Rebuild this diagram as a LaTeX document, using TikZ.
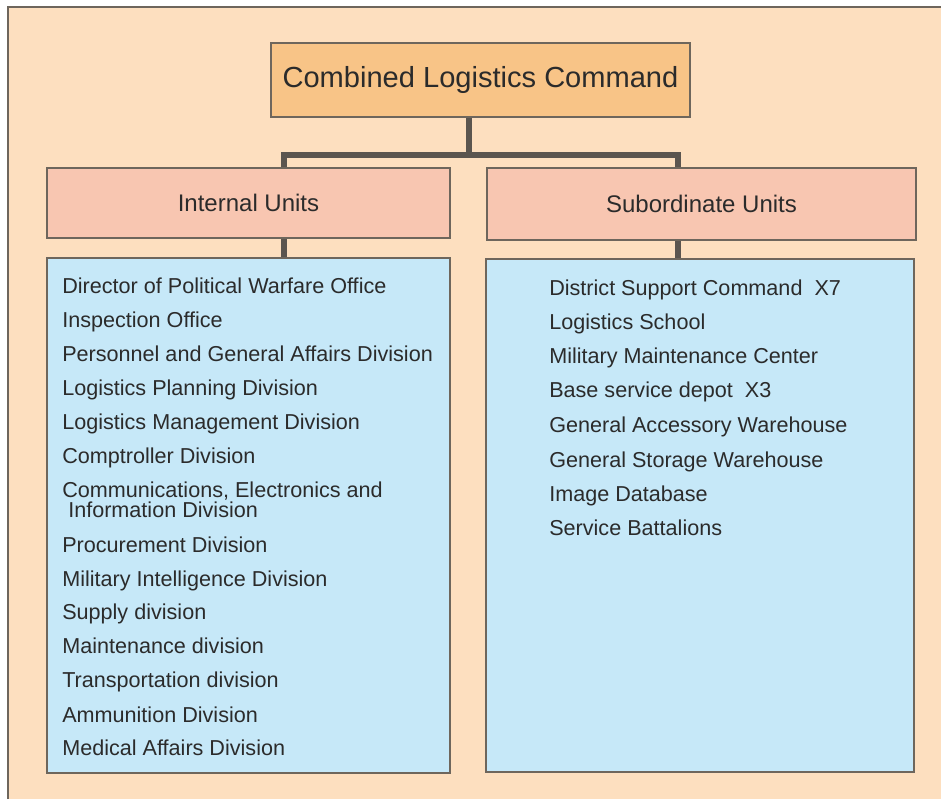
\documentclass[tikz,border=0pt]{standalone}
\usepackage{fontspec}
\setmainfont{Liberation Sans}
\usepackage{tikz}
\definecolor{Peach}{HTML}{FDDFBF}
\definecolor{TopOrange}{HTML}{F8C487}
\definecolor{UnitPink}{HTML}{F8C6B1}
\definecolor{ListBlue}{HTML}{C6E8F8}
\definecolor{EdgeGray}{HTML}{6E665C}
\definecolor{BarGray}{HTML}{5B554F}
\definecolor{InkGray}{HTML}{2B2B2B}

\tikzset{
  box/.style={draw=EdgeGray, line width=1.1pt, inner sep=0pt},
  bar/.style={draw=BarGray, line width=4.5pt},
  item/.style={anchor=base west, inner sep=0pt, text=InkGray,
    font=\fontsize{16.2}{19}\selectfont}
}

\begin{document}
\begin{tikzpicture}[x=0.75pt,y=-0.75pt]
        \useasboundingbox (0,0) rectangle (941,799);
        \fill[white] (0,0) rectangle (941,799);
        \fill[Peach] (8,7) rectangle (941,799);
        \draw[EdgeGray, line width=1.1pt] (8,799) -- (8,7) -- (941,7);

        \node[box, fill=TopOrange, minimum width=314.25pt, minimum height=55.5pt,
              font=\fontsize{21.8}{26}\selectfont, text=InkGray] (clc) at (480.5,80) {Combined Logistics Command};

        \node[box, fill=UnitPink, minimum width=302.25pt, minimum height=52.5pt,
              font=\fontsize{18}{22}\selectfont, text=InkGray] (intu) at (248.5,203) {Internal Units};
        \node[box, fill=UnitPink, minimum width=321.75pt, minimum height=54pt,
              font=\fontsize{18}{22}\selectfont, text=InkGray] (subu) at (701.5,204) {Subordinate Units};

        \node[box, fill=ListBlue, minimum width=302.25pt, minimum height=386.25pt] (intlist) at (248.5,515.5) {};
        \node[box, fill=ListBlue, minimum width=321pt, minimum height=384.75pt] (sublist) at (700,515.5) {};

        \coordinate (stem) at (469,155);
        \coordinate (busl) at (284,155);
        \coordinate (busr) at (678,155);

        \draw[bar] (clc.south -| stem) -- (stem);
        \draw[bar] (busl |- intu.north) -- (busl) -- (busr) -- (busr |- subu.north);
        \draw[bar] (intu.south -| busl) -- (intlist.north -| busl);
        \draw[bar] (subu.south -| busr) -- (sublist.north -| busr);

        % internal units
        \node[item] (int1) at (62,293) {Director of Political Warfare Office};
        \node[item] (int2) at (62,327) {Inspection Office};
        \node[item] (int3) at (62,361) {Personnel and General Affairs Division};
        \node[item] (int4) at (62,395) {Logistics Planning Division};
        \node[item] (int5) at (62,429) {Logistics Management Division};
        \node[item] (int6) at (62,463) {Comptroller Division};
        \node[item] (int7) at (62,497) {Communications, Electronics and};
        \node[item] (int7b) at (68,517) {Information Division};
        \node[item] (int8) at (62,552) {Procurement Division};
        \node[item] (int9) at (62,586) {Military Intelligence Division};
        \node[item] (int10) at (62,619) {Supply division};
        \node[item] (int11) at (62,653) {Maintenance division};
        \node[item] (int12) at (62,687) {Transportation division};
        \node[item] (int13) at (62,722) {Ammunition Division};
        \node[item] (int14) at (62,755) {Medical Affairs Division};

        % subordinate units
        \node[item] (sub1) at (549,295) {District Support Command\ \ X7};
        \node[item] (sub2) at (549,329) {Logistics School};
        \node[item] (sub3) at (549,363) {Military Maintenance Center};
        \node[item] (sub4) at (549,397) {Base service depot\ \ X3};
        \node[item] (sub5) at (549,432) {General Accessory Warehouse};
        \node[item] (sub6) at (549,467) {General Storage Warehouse};
        \node[item] (sub7) at (549,501) {Image Database};
        \node[item] (sub8) at (549,535) {Service Battalions};
    \end{tikzpicture}
\end{document}
